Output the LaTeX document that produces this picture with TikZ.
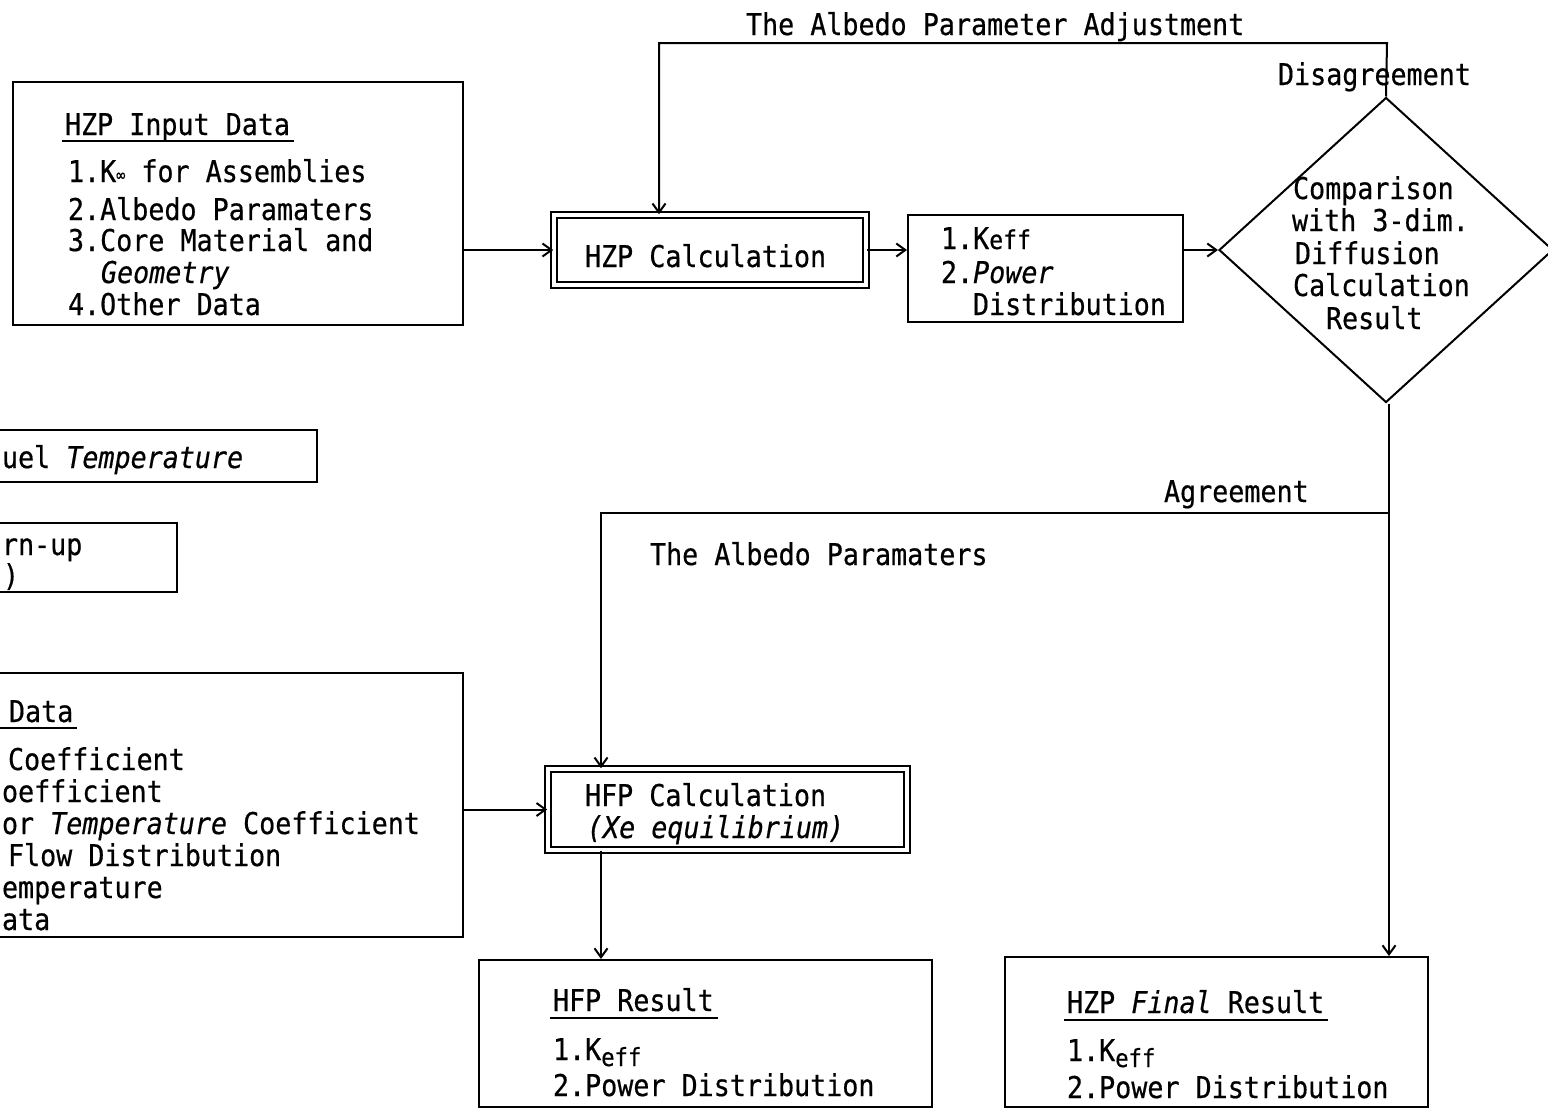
\documentclass[tikz,border=0pt]{standalone}
\usepackage{fontspec}
\usetikzlibrary{arrows.meta,shapes.geometric}
\newfontfamily\tw[FakeStretch=0.89,FakeBold=0.5]{DejaVu Sans Mono}
\newcommand{\subeff}{\raisebox{-6bp}{\fontsize{25bp}{25bp}\selectfont eff}}
\newcommand{\myinfty}{{\fontsize{17bp}{17bp}\selectfont\raisebox{1bp}{∞}}}
\begin{document}
\begin{tikzpicture}[x=1bp,y=-1bp,
  line width=2bp,
  >={Straight Barb[length=9bp,width=13bp]},
  every node/.style={font=\tw\fontsize{30bp}{32bp}\selectfont},
  txt/.style={anchor=base west,inner sep=0pt},
  box/.style={draw,rectangle,inner sep=0pt},
  dbox/.style={draw,rectangle,inner sep=0pt,double,double distance=4bp,line width=1.6bp},
  ul/.style={line width=1.6bp}]
\clip (0,0) rectangle (1548,1110);
\useasboundingbox (0,0) rectangle (1548,1110);

% ---------- boxes ----------
\node[box,minimum width=450bp,minimum height=243bp] (inhzp) at (238,203.5) {};
\node[dbox,minimum width=312bp,minimum height=70bp] (hzpcalc) at (710,250) {};
\node[box,minimum width=275bp,minimum height=107bp] (keffbox) at (1045.5,268.5) {};
\node[draw,diamond,inner sep=0pt,minimum width=334bp,minimum height=305bp] (dia) at (1386,250) {};
\node[box,minimum width=367bp,minimum height=52bp] (fuel) at (133.5,456) {};
\node[box,minimum width=227bp,minimum height=69bp] (burn) at (63.5,557.5) {};
\node[box,minimum width=513bp,minimum height=264bp] (inhfp) at (206.5,805) {};
\node[dbox,minimum width=359bp,minimum height=81bp] (hfpcalc) at (727.5,809.5) {};
\node[box,minimum width=453bp,minimum height=147bp] (hfpres) at (705.5,1033.5) {};
\node[box,minimum width=423bp,minimum height=150bp] (hzpfin) at (1216.5,1032) {};

% ---------- texts ----------
\node[txt] (t1) at (64,135) {HZP Input Data};
\draw[ul] ([xshift=-2bp,yshift=-6bp]t1.base west) -- ([xshift=3bp,yshift=-6bp]t1.base east);
\node[txt] (t1a) at (67,182) {1.K\myinfty{} for Assemblies};
\node[txt] (t1b) at (67,220) {2.Albedo Paramaters};
\node[txt] (t1c) at (67,251) {3.Core Material and};
\node[txt] (t1d) at (100,283) {\itshape Geometry};
\node[txt] (t1e) at (67,315) {4.Other Data};

\node[txt] (t2) at (584,267) {HZP Calculation};

\node[txt] (t3a) at (940,249) {1.K{\fontsize{26bp}{26bp}\selectfont eff}};
\node[txt] (t3b) at (940,283) {2.{\itshape Power}};
\node[txt] (t3c) at (972,315) {Distribution};

\node[txt] (t4a) at (1292,199) {Comparison};
\node[txt] (t4b) at (1291,231) {with 3-dim.};
\node[txt] (t4c) at (1294,264) {Diffusion};
\node[txt] (t4d) at (1292,296) {Calculation};
\node[txt] (t4e) at (1325,329) {Result};

\node[txt] (t5) at (1,468) {uel \itshape Temperature};
\node[txt] (t6a) at (1,555) {rn-up};
\node[txt] (t6b) at (2,586) {)};

\node[txt] (t7) at (8,722) {Data};
\draw[ul] ([xshift=-12bp,yshift=-6bp]t7.base west) -- ([xshift=3bp,yshift=-6bp]t7.base east);
\node[txt] (t7a) at (7,770) {Coefficient};
\node[txt] (t7b) at (1,802) {oefficient};
\node[txt] (t7c) at (1,834) {or {\itshape Temperature} Coefficient};
\node[txt] (t7d) at (7,866) {Flow Distribution};
\node[txt] (t7e) at (1,898) {emperature};
\node[txt] (t7f) at (1,930) {ata};

\node[txt] (t8a) at (584,806) {HFP Calculation};
\node[txt] (t8b) at (586,838) {\itshape (Xe equilibrium)};

\node[txt] (t9) at (552,1011) {HFP Result};
\draw[ul] ([xshift=-2bp,yshift=-7bp]t9.base west) -- ([xshift=3bp,yshift=-7bp]t9.base east);
\node[txt] (t9a) at (552,1060) {1.K\subeff};
\node[txt] (t9b) at (552,1096) {2.Power Distribution};

\node[txt] (t10) at (1066,1013) {HZP {\itshape Final} Result};
\draw[ul] ([xshift=-2bp,yshift=-7bp]t10.base west) -- ([xshift=3bp,yshift=-7bp]t10.base east);
\node[txt] (t10a) at (1066,1061) {1.K\subeff};
\node[txt] (t10b) at (1066,1098) {2.Power Distribution};

\node[txt] (lab1) at (745,35) {The Albedo Parameter Adjustment};
\node[txt] (lab2) at (1277,85) {Disagreement};
\node[txt] (lab3) at (1163,502) {Agreement};
\node[txt] (lab4) at (649,565) {The Albedo Paramaters};

% ---------- connectors ----------
\draw[->] (inhzp.east |- hzpcalc) -- (hzpcalc.west);
\draw[->] (hzpcalc.east) -- (keffbox.west |- hzpcalc);
\draw[->] (keffbox.east |- dia) -- (dia.west);

\coordinate (adjR) at (1387,43);
\coordinate (adjL) at (659,43);
\draw[->] (dia.north) -- (adjR) -- (adjL) -- (adjL |- hzpcalc.north);

\coordinate (agR) at (1389,513);
\coordinate (agL) at (601,513);
\draw[->] (agR |- dia.south) -- (agR |- hzpfin.north);
\draw[->] (agR) -- (agL) -- (agL |- hfpcalc.north);

\draw[->] (inhfp.east |- hfpcalc) -- (hfpcalc.west);
\draw[->] (agL |- hfpcalc.south) -- (agL |- hfpres.north);
\end{tikzpicture}
\end{document}
